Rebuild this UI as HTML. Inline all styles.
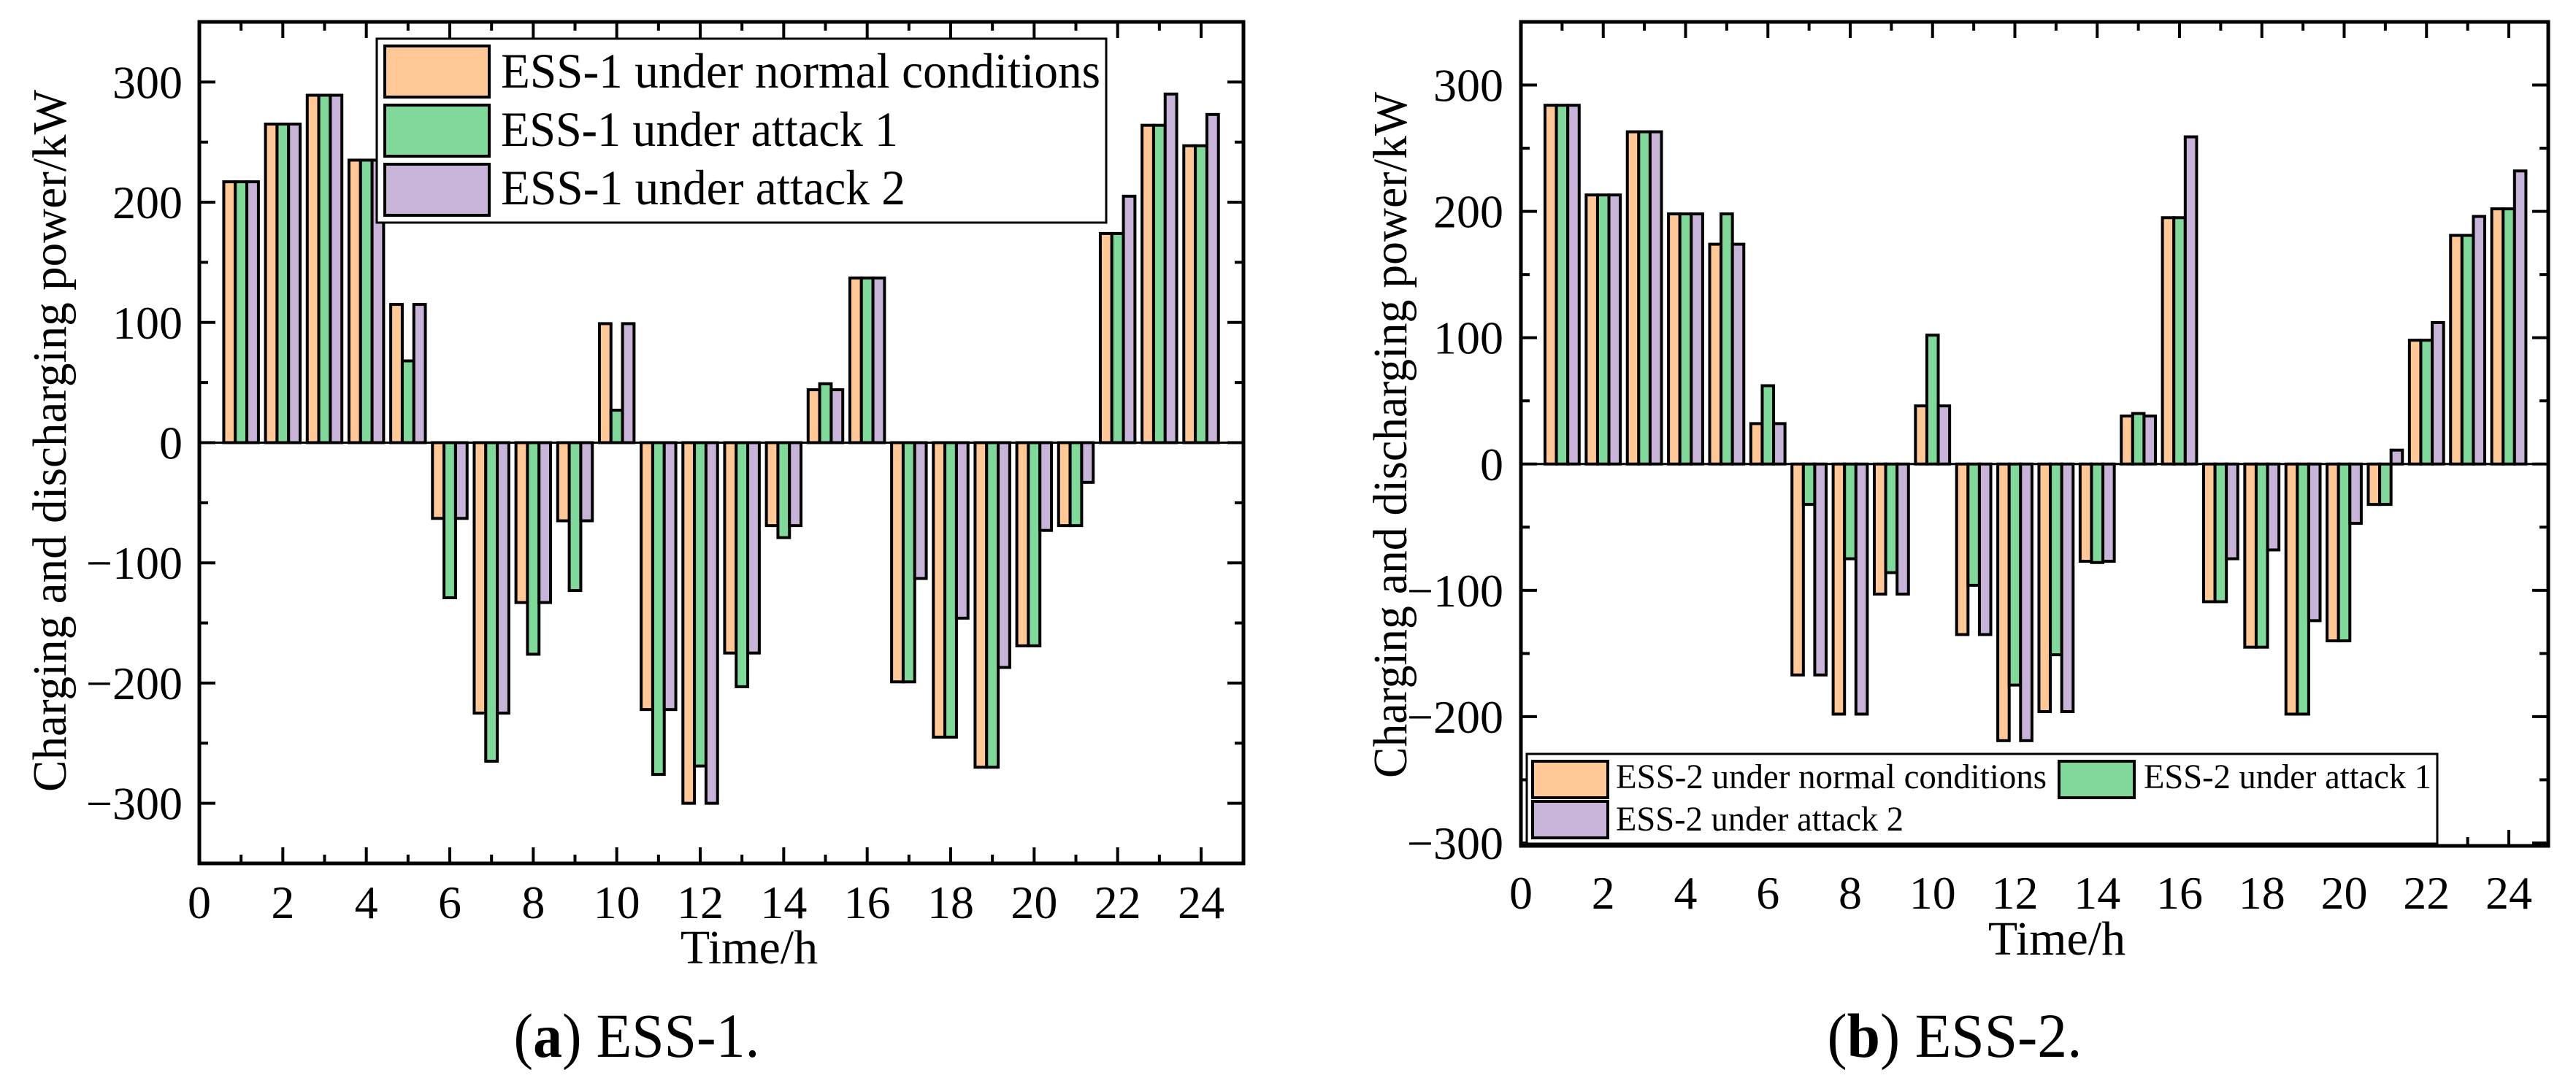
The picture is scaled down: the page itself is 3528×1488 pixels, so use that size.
<!DOCTYPE html>
<html><head><meta charset="utf-8"><style>
html,body{margin:0;padding:0;background:#fff;}
svg{display:block;font-family:"Liberation Serif",serif;}
</style></head><body>
<svg id="root" width="3528" height="1488" viewBox="0 0 3528 1488" xmlns="http://www.w3.org/2000/svg">
<g id="pa"></g>
<g id="pb"></g>
</svg>
<script>
const hours = [1,2,3,4,5,6,7,8,9,10,11,12,13,14,15,16,17,18,19,20,21,22,23,24];
const ess1Normal = [217,265,289,235,115,-63,-225,-133,-65,99,-222,-300,-175,-69,44,137,-199,-245,-270,-169,-69,174,264,247];
const ess1Attack1 = [217,265,289,235,68,-129,-265,-176,-123,27,-276,-269,-203,-79,49,137,-199,-245,-270,-169,-69,174,264,247];
const ess1Attack2 = [217,265,289,235,115,-63,-225,-133,-65,99,-222,-300,-175,-69,44,137,-113,-146,-187,-73,-33,205,290,273];
const ess2Normal = [284,213,263,198,174,32,-167,-198,-103,46,-135,-219,-196,-77,38,195,-109,-145,-198,-140,-32,98,181,202];
const ess2Attack1 = [284,213,263,198,198,62,-32,-75,-86,102,-96,-175,-151,-78,40,195,-109,-145,-198,-140,-32,98,181,202];
const ess2Attack2 = [284,213,263,198,174,32,-167,-198,-103,46,-135,-219,-196,-77,38,259,-75,-68,-124,-47,11,112,196,232];
const xTicks = [0,2,4,6,8,10,12,14,16,18,20,22,24];
const yTicksA = [-300,-200,-100,0,100,200,300];
const yTicksB = [-300,-200,-100,0,100,200,300];
const colors = ['#FFC896','#80D99B','#C8B4D9'];
const NS='http://www.w3.org/2000/svg';
function mk(parent,tag,attrs,text){const e=document.createElementNS(NS,tag);for(const k in attrs)e.setAttribute(k,attrs[k]);if(text!==undefined)e.textContent=text;parent.appendChild(e);return e;}

function drawChart(g,cfg){
  const {x0,x1,y0,y1,ymin,ymax,left,right,top,bottom} = cfg;
  const X=v=>x0+(x1-x0)*(v/24);
  const Y=v=>y0+(y1-y0)*((v-ymin)/(ymax-ymin));
  const series=cfg.series;
  const gw=0.83, bw=gw/3;
  series.forEach((s,si)=>{
    hours.forEach((h,i)=>{
      const v=s[i];
      const xl=X(h-gw/2+si*bw), xr=X(h-gw/2+(si+1)*bw);
      const ya=Y(Math.max(v,0)), yb=Y(Math.min(v,0));
      const r=mk(g,'rect',{x:xl,y:ya,width:xr-xl,height:Math.max(yb-ya,0.5),fill:colors[si],stroke:'#000','stroke-width':4});
      
      
    });
  });
  const z=mk(g,'line',{x1:left,x2:right,y1:Y(0),y2:Y(0),stroke:'#000','stroke-width':3});
  
  for(let h=0;h<=24;h++){
    const L=h%2===0?22:12;const x=X(h);
    mk(g,'line',{x1:x,x2:x,y1:bottom,y2:bottom-L,stroke:'#000','stroke-width':4});
    mk(g,'line',{x1:x,x2:x,y1:top,y2:top+L,stroke:'#000','stroke-width':4});
  }
  for(let v=Math.ceil(ymin/50)*50;v<=ymax;v+=50){
    const L=v%100===0?22:12;const y=Y(v);
    mk(g,'line',{x1:left,x2:left+L,y1:y,y2:y,stroke:'#000','stroke-width':4});
    mk(g,'line',{x1:right,x2:right-L,y1:y,y2:y,stroke:'#000','stroke-width':4});
  }
  const fr=mk(g,'rect',{x:left,y:top,width:right-left,height:bottom-top,fill:'none',stroke:'#000','stroke-width':5});
  
  xTicks.forEach(t=>{const e=mk(g,'text',{x:X(t),y:cfg.xlabY,'font-size':64,'text-anchor':'middle'},String(t));
    });
  cfg.yTicks.forEach(t=>{const e=mk(g,'text',{x:cfg.ylabX,y:Y(t)+22,'font-size':64,'text-anchor':'end'},t<0?'\u2212'+(-t):String(t));
    });
  const xt=mk(g,'text',{x:cfg.xtX,y:cfg.xtY,'font-size':66,'text-anchor':'middle'},'Time/h');
  
  const yt=mk(g,'text',{x:0,y:0,'font-size':66,'text-anchor':'middle',transform:`translate(${cfg.ytX},${cfg.ytY}) rotate(-90)`,textLength:cfg.ytLen,lengthAdjust:'spacingAndGlyphs'},'Charging and discharging power/kW');
  
  const cap=mk(g,'text',{x:cfg.capX,y:cfg.capY,'font-size':86,'text-anchor':'middle'});
  
  mk(cap,'tspan',{},'(');mk(cap,'tspan',{'font-weight':'bold'},cfg.capL);mk(cap,'tspan',{},') '+cfg.capT);
  cap.setAttribute('textLength',cfg.capLen);cap.setAttribute('lengthAdjust','spacingAndGlyphs');
}

drawChart(document.getElementById('pa'),{id:'ess1',x0:273,x1:1645,left:273,right:1703,top:30,bottom:1183,
  ymin:-350,ymax:350,y0:1183,y1:30,series:[ess1Normal,ess1Attack1,ess1Attack2],yTicks:yTicksA,
  xlabY:1258,ylabX:250,xtX:1026,xtY:1320,ytX:90,ytY:604,ytLen:962,capX:872,capY:1448,capL:'a',capT:'ESS-1.',capLen:337});
drawChart(document.getElementById('pb'),{id:'ess2',x0:2083,x1:3436,left:2083,right:3490,top:30,bottom:1159,
  ymin:-300,ymax:350,y0:1155,y1:30,series:[ess2Normal,ess2Attack1,ess2Attack2],yTicks:yTicksB,
  xlabY:1245,ylabX:2059,xtX:2817,xtY:1308,ytX:1926,ytY:596,ytLen:940,capX:2677,capY:1448,capL:'b',capT:'ESS-2.',capLen:349});

const ga=document.getElementById('pa');
const la=mk(ga,'g',{});
mk(la,'rect',{x:516,y:53,width:999,height:252,fill:'#fff',stroke:'#000','stroke-width':3});
const legA=['ESS-1 under normal conditions','ESS-1 under attack 1','ESS-1 under attack 2'];
const legALen=[821,544,554];
legA.forEach((t,i)=>{
  const e=mk(la,'g',{});
  mk(e,'rect',{x:527,y:63+i*81,width:143,height:70,fill:colors[i],stroke:'#000','stroke-width':4});
  mk(e,'text',{x:686,y:120+i*80,'font-size':68,textLength:legALen[i],lengthAdjust:'spacingAndGlyphs'},t);
});
const gb=document.getElementById('pb');
const lb=mk(gb,'g',{});
mk(lb,'rect',{x:2091,y:1033,width:1247,height:123,fill:'#fff',stroke:'#000','stroke-width':3});
const legB=[['ESS-2 under normal conditions',2099,1043,2213,1080,590],['ESS-2 under attack 1',2820,1043,2936,1080,394],['ESS-2 under attack 2',2099,1098,2213,1138,394]];
const legBc=[0,1,2];
legB.forEach((d,i)=>{
  const e=mk(lb,'g',{});
  mk(e,'rect',{x:d[1],y:d[2],width:103,height:50,fill:colors[legBc[i]],stroke:'#000','stroke-width':4});
  mk(e,'text',{x:d[3],y:d[4],'font-size':48,textLength:d[5],lengthAdjust:'spacingAndGlyphs'},d[0]);
});
mk(gb,'line',{x1:2083,x2:3490,y1:1159,y2:1159,stroke:'#000','stroke-width':5});
</script>
</body></html>
